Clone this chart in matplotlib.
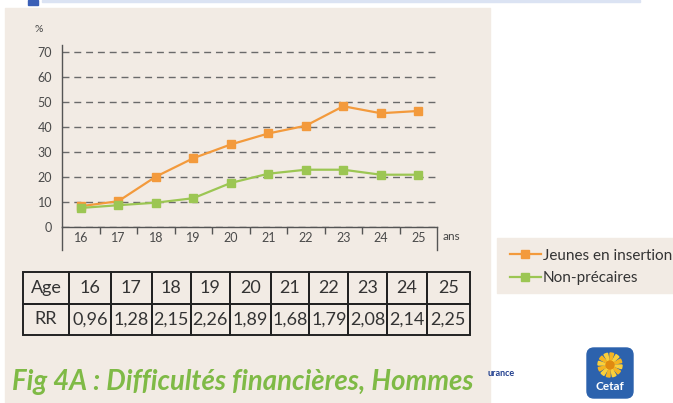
import numpy as np
import matplotlib
matplotlib.use("Agg")
from matplotlib import pyplot as plt
from matplotlib.patches import Rectangle, FancyBboxPatch, Circle, Wedge

# data
ages = [16, 17, 18, 19, 20, 21, 22, 23, 24, 25]
jeunes = [8.2, 10.2, 20.0, 27.4, 32.9, 37.3, 40.4, 48.2, 45.4, 46.3]
non_precaires = [7.5, 8.6, 9.6, 11.4, 17.5, 21.2, 22.8, 22.8, 20.8, 20.8]
rr = ["0,96", "1,28", "2,15", "2,26", "1,89", "1,68", "1,79", "2,08", "2,14", "2,25"]
yticks = [0, 10, 20, 30, 40, 50, 60, 70]
labels = ["Jeunes en insertion", "Non-précaires"]
title = "Fig 4A : Difficultés financières, Hommes"

BEIGE = "#f2ebe4"
ORANGE = "#f39a3c"
GREEN = "#9cc653"
TITLE_GREEN = "#7fba46"
GREY = "#555555"

plt.rcParams['font.family'] = ['Lato', 'DejaVu Sans']

W, H = 673, 403
def box(x0, y0, x1, y1):
    # pixel box (top-left origin) -> figure fraction rect
    return [x0 / W, 1 - y1 / H, (x1 - x0) / W, (y1 - y0) / H]

fig = plt.figure(figsize=(W / 100, H / 100), dpi=100)
fig.patch.set_facecolor("white")

# beige slide panel
r = box(5, 8, 490, 403)
fig.add_artist(Rectangle((r[0], r[1]), r[2], r[3], transform=fig.transFigure,
                         color=BEIGE, zorder=0))
# cut-off header on top
r = box(28, 0, 38, 5)
fig.add_artist(Rectangle((r[0], r[1]), r[2], r[3], transform=fig.transFigure,
                         color="#3b5fb6", zorder=1))
r = box(42, 0, 640, 2)
fig.add_artist(Rectangle((r[0], r[1]), r[2], r[3], transform=fig.transFigure,
                         color="#dbe3f3", zorder=1))

# main chart
ax = fig.add_axes(box(62, 45, 437, 226.7))
ax.set_facecolor("none")
ax.set_xlim(15.5, 25.5)
ax.set_ylim(0, 72.7)
for s in ["top", "right"]:
    ax.spines[s].set_visible(False)
for s in ["left", "bottom"]:
    ax.spines[s].set_color(GREY)
    ax.spines[s].set_linewidth(1)

ax.set_yticks(yticks)
ax.tick_params(axis="y", length=0, pad=7, labelsize=9, labelcolor="#4a4a4a")
ax.set_xticks(np.arange(16.5, 25, 1))
ax.set_xticklabels([])
ax.set_xticks(ages, minor=True)
ax.set_xticklabels([str(a) for a in ages], minor=True)
ax.tick_params(axis="x", which="major", length=5, width=1, color=GREY, direction="out")
ax.tick_params(axis="x", which="minor", length=0, pad=4, labelsize=9, labelcolor="#4a4a4a")
ax.grid(axis="y", color="#6a6a6a", lw=1, ls=(0, (5, 3.5)), zorder=1)
ax.set_axisbelow(True)

# box sides under the category axis
for xa in [0, 1]:
    ax.plot([xa, xa], [0, -0.128], transform=ax.transAxes, color=GREY, lw=1, clip_on=False)

l1, = ax.plot(ages, jeunes, color=ORANGE, lw=1.6, marker="s", ms=6, zorder=3)
l2, = ax.plot(ages, non_precaires, color=GREEN, lw=1.6, marker="s", ms=6, zorder=4)

fig.text(39 / W, 1 - 29 / H, "%", ha="center", va="center", fontsize=7.5, color="#444444")
fig.text(443 / W, 1 - 237 / H, "ans", ha="left", va="center", fontsize=8.5, color="#444444")

# RR table
tax = fig.add_axes(box(22.7, 272.3, 470, 335))
tax.axis("off")
widths = [46.6, 41.7, 40.7, 39, 39.3, 40.7, 38.6, 39, 38.4, 40, 43.3]
widths = [w / sum(widths) for w in widths]
cell_text = [["Age"] + [str(a) for a in ages], ["RR"] + rr]
tbl = tax.table(cellText=cell_text, colWidths=widths, bbox=[0, 0, 1, 1], cellLoc="center")
tbl.auto_set_font_size(False)
tbl.set_fontsize(13)
for (i, j), cell in tbl.get_celld().items():
    cell.set_edgecolor("#222222")
    cell.set_linewidth(1.4)
    cell.set_facecolor("none")
    cell.get_text().set_color("#333333")
    cell.PAD = 0.08
    if j == 0:
        cell._loc = "left" if i == 0 else "right"

# legend on its own beige box
r = box(497, 238, 673, 293)
fig.add_artist(Rectangle((r[0], r[1]), r[2], r[3], transform=fig.transFigure,
                         color=BEIGE, zorder=0))
fig.legend([l1, l2], labels, loc="center left", bbox_to_anchor=(504 / W, 1 - 267 / H),
           frameon=False, fontsize=11, handlelength=2.0, handletextpad=0.15,
           labelspacing=0.55, borderaxespad=0, labelcolor="#333333")

# title, fitted to the reference width
t = fig.text(12 / W, 1 - 390 / H, title, fontsize=22, fontweight="bold", style="italic",
             color=TITLE_GREEN, va="baseline", ha="left")
fig.canvas.draw()
wpx = t.get_window_extent().width
t.set_fontsize(22 * 462 / wpx)

fig.text(488 / W, 1 - 373 / H, "urance", fontsize=6.5, fontweight="bold",
         color="#22408f", va="center", ha="left")

# Cetaf logo
lax = fig.add_axes(box(584, 345, 636, 401))
lax.set_xlim(0, 52)
lax.set_ylim(56, 0)
lax.axis("off")
lax.add_patch(FancyBboxPatch((3, 3), 46, 50, boxstyle="round,pad=0,rounding_size=7",
                             color="#2c62ad"))
for k in range(12):
    a = k * 30
    lax.add_patch(Wedge((26, 20), 12, a, a + 18, color="#f6b520" if k % 2 else "#fbd03a"))
lax.add_patch(Circle((26, 20), 4, color="#e08a10"))
lax.text(26, 42, "Cetaf", color="white", fontsize=8.5, fontweight="bold",
         ha="center", va="center")

fig.savefig("out.png", dpi=100)
